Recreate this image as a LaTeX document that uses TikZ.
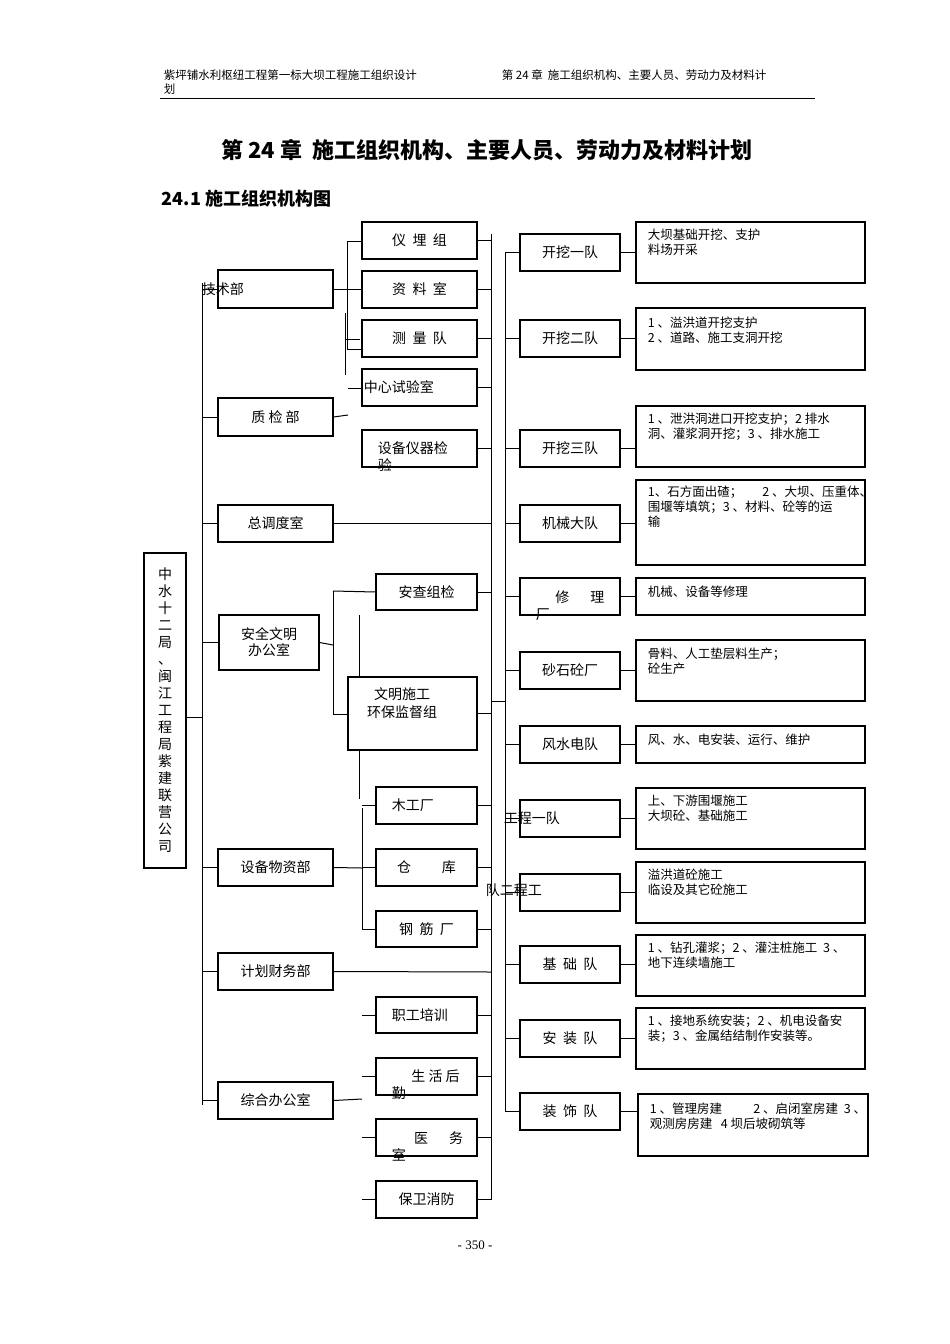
\documentclass[tikz,border=0pt]{standalone}
\usepackage{fontspec}
\setmainfont{Liberation Serif}
\newfontfamily\cjk{Noto Sans CJK SC}
\begin{document}
\begin{tikzpicture}[x=1pt,y=-1pt,line width=1pt,
  box/.style={draw,line width=1.1pt,inner sep=0pt,font=\cjk\fontsize{14}{16}\selectfont,align=center},
  note/.style={anchor=north west,inner sep=0pt,align=left,font=\cjk\fontsize{12.5}{15}\selectfont}]
\useasboundingbox (0,0) rectangle (950,1344);
\newcommand\bx[6]{\node[box,minimum width={(#4-#2)*1pt},minimum height={(#5-#3)*1pt}] (#1) at ({(#2+#4)/2},{(#3+#5)/2}) {#6};}
% header
\node[anchor=west,font=\cjk\fontsize{11.5}{13}\selectfont] at (160,75) {紫坪铺水利枢纽工程第一标大坝工程施工组织设计};
\node[anchor=west,font=\cjk\fontsize{11.5}{13}\selectfont] at (160,89) {划};
\node[anchor=west,font=\cjk\fontsize{11.5}{13}\selectfont] at (498,75) {第 24 章\ \ 施工组织机构、主要人员、劳动力及材料计};
\draw[line width=1pt] (160,98) -- (815,98);
\node[font=\cjk\bfseries\fontsize{22}{26}\selectfont] at (487,150) {第 24 章\ \ 施工组织机构、主要人员、劳动力及材料计划};
\node[anchor=west,font=\cjk\bfseries\fontsize{18}{22}\selectfont] at (158,199) {24.1 施工组织机构图};
% main
\bx{main}{144}{553}{186}{868}{}
\node[font=\cjk\fontsize{14}{17}\selectfont,align=center] at (165,710) {中\\水\\十\\二\\局\\、\\闽\\江\\工\\程\\局\\紫\\建\\联\\营\\公\\司};
% column 2
\bx{js}{218}{270}{333}{308}{}
\node[anchor=west,font=\cjk\fontsize{14}{16}\selectfont] at (198,289) {技术部};
\bx{zj}{218}{398}{333}{436}{质\ 检\ 部}
\bx{dd}{218}{505}{333}{542}{总调度室}
\bx{aq}{219}{615}{319}{670}{安全文明\\办公室}
\bx{sb}{218}{849}{333}{886}{设备物资部}
\bx{cw}{218}{953}{333}{990}{计划财务部}
\bx{zh}{218}{1082}{333}{1119}{综合办公室}
% column 3
\bx{ym}{362}{222}{477}{259}{仪\ \ 埋\ \ 组}
\bx{zl}{362}{271}{477}{308}{资\ \ 料\ \ 室}
\bx{cl}{362}{320}{477}{357}{测\ \ 量\ \ 队}
\bx{sy}{362}{369}{477}{406}{}
\node[anchor=west,font=\cjk\fontsize{14}{16}\selectfont] at (360,387) {中心试验室};
\bx{yq}{362}{430}{477}{467}{}
\node[anchor=north west,align=left,font=\cjk\fontsize{14}{17}\selectfont] at (374,438) {设备仪器检\\验};
\bx{aj}{376}{574}{477}{610}{安查组检}
\bx{wm}{348}{677}{477}{750}{}
\node[font=\cjk\fontsize{14}{18}\selectfont,align=center] at (402,703) {文明施工\\环保监督组};
\bx{mg}{376}{787}{477}{824}{}
\node[anchor=west,font=\cjk\fontsize{14}{16}\selectfont] at (388,805) {木工厂};
\bx{ck}{376}{849}{477}{886}{仓\hspace{2.2em}库}
\bx{gj}{376}{911}{477}{947}{钢\ \ 筋\ \ 厂}
\bx{px}{376}{997}{477}{1033}{}
\node[anchor=west,font=\cjk\fontsize{14}{16}\selectfont] at (388,1015) {职工培训};
\bx{hq}{376}{1058}{477}{1095}{}
\node[anchor=north west,align=left,font=\cjk\fontsize{14}{17}\selectfont] at (388,1066) {\hspace{1.4em}生\ 活\ 后\\勤};
\bx{yw}{376}{1119}{477}{1156}{}
\node[anchor=north west,align=left,font=\cjk\fontsize{14}{17}\selectfont] at (388,1128) {\hspace{1.6em}医\hspace{1.5em}务\\室};
\bx{bw}{376}{1181}{477}{1218}{保卫消防}
% column 4
\bx{k1}{520}{234}{620}{271}{开挖一队}
\bx{k2}{520}{320}{620}{357}{开挖二队}
\bx{k3}{520}{430}{620}{467}{开挖三队}
\bx{jx}{520}{505}{620}{542}{机械大队}
\bx{xl}{520}{578}{620}{615}{}
\node[anchor=north west,align=left,font=\cjk\fontsize{14}{17}\selectfont] at (532,587) {\hspace{1.4em}修\hspace{1.5em}理\\厂};
\bx{ss}{520}{652}{620}{689}{砂石砼厂}
\bx{fs}{520}{726}{620}{763}{风水电队}
\bx{g1}{520}{800}{620}{837}{}
\node[anchor=west,font=\cjk\fontsize{14}{16}\selectfont] at (500,818) {工程一队};
\bx{g2}{520}{874}{620}{911}{}
\node[anchor=west,font=\cjk\fontsize{14}{16}\selectfont] at (482,890) {队二程工};
\bx{jc}{520}{946}{620}{983}{基\ \ 础\ \ 队}
\bx{az}{520}{1020}{620}{1057}{安\ \ 装\ \ 队}
\bx{zs}{520}{1093}{620}{1130}{装\ \ 饰\ \ 队}
% column 5
\bx{n1}{636}{222}{865}{283}{}
\bx{n2}{636}{308}{865}{370}{}
\bx{n3}{636}{406}{865}{467}{}
\bx{n4}{636}{480}{865}{565}{}
\bx{n5}{636}{578}{865}{615}{}
\bx{n6}{636}{640}{865}{701}{}
\bx{n7}{636}{726}{865}{763}{}
\bx{n8}{636}{788}{865}{849}{}
\bx{n9}{636}{862}{865}{923}{}
\bx{n10}{636}{935}{865}{996}{}
\bx{n11}{636}{1008}{865}{1069}{}
\bx{n12}{638}{1094}{868}{1156}{}
\node[note] at (n1.north west) [xshift=12pt,yshift=-7pt] {大坝基础开挖、支护\\料场开采};
\node[note] at (n2.north west) [xshift=12pt,yshift=-9pt] {1\ 、溢洪道开挖支护\\2\ 、道路、施工支洞开挖};
\node[note] at (n3.north west) [xshift=12pt,yshift=-7pt] {1\ 、泄洪洞进口开挖支护；2 排水\\洞、灌浆洞开挖；3\ 、排水施工};
\node[note] at (n4.north west) [xshift=12pt,yshift=-6pt] {1、石方面出碴；\hspace{1.6em}2\ 、大坝、压重体、\\围堰等填筑；3\ 、材料、砼等的运\\输};
\node[note] at (n5.north west) [xshift=12pt,yshift=-8pt] {机械、设备等修理};
\node[note] at (n6.north west) [xshift=12pt,yshift=-8pt] {骨料、人工垫层料生产；\\砼生产};
\node[note] at (n7.north west) [xshift=12pt,yshift=-8pt] {风、水、电安装、运行、维护};
\node[note] at (n8.north west) [xshift=12pt,yshift=-7pt] {上、下游围堰施工\\大坝砼、基础施工};
\node[note] at (n9.north west) [xshift=12pt,yshift=-7pt] {溢洪道砼施工\\临设及其它砼施工};
\node[note] at (n10.north west) [xshift=12pt,yshift=-7pt] {1\ 、钻孔灌浆；2\ 、灌注桩施工\ \ 3\ 、\\地下连续墙施工};
\node[note] at (n11.north west) [xshift=12pt,yshift=-7pt] {1\ 、接地系统安装；2\ 、机电设备安\\装；3\ 、金属结结制作安装等。};
\node[note] at (n12.north west) [xshift=12pt,yshift=-9pt] {1\ 、管理房建\hspace{2.5em}2\ 、启闭室房建\ \ 3\ 、\\观测房房建\ \ \ 4 坝后坡砌筑等};
% left bus
\draw (202,283) -- (202,1105);
\draw (main.east |- 0,717) -- (202,717);
\foreach \n in {js,zj,dd,sb,cw,zh} \draw (202,0 |- \n.west) -- (\n.west);
\draw (202,0 |- aq.west) -- (aq.west);
% tech
\draw (js.east) -- (347,289);
\draw (347,241) -- (347,349) -- (362,349);
\draw (347,241) -- (ym.west |- 0,241);
\draw (347,289) -- (362,289);
\draw (345,313) -- (345,375);
\draw (345,339) -- (360,339);
\draw (348,388) -- (362,388);
\draw (zj.east) -- (348,415);
% col3 right bus
\draw (491,234) -- (491,1200);
\foreach \n in {ym,zl,cl,sy,yq,aj,wm,mg,ck,gj,px,hq,yw,bw} \draw (\n.east) -- (491,0 |- \n.east);
\draw (dd.east) -- (491,0 |- dd.east);
\draw (cw.east) -- (491,972);
% safety
\draw (aq.east) -- (333,645);
\draw (333,591) -- (333,714);
\draw (333,591) -- (aj.west);
\draw (333,714) -- (348,714);
\draw (359,615) -- (359,677);
\draw (359,750) -- (359,799);
% equipment
\draw (sb.east) -- (362,868);
\draw (362,808) -- (362,929);
\foreach \n in {mg,ck,gj} \draw (362,0 |- \n.west) -- (\n.west);
% general office
\draw (zh.east) -- (362,1099);
\foreach \n in {px,hq,yw,bw} \draw (362,0 |- \n.west) -- (\n.west);
% col4 bus
\draw (505,252) -- (505,1112);
\draw (491,701) -- (505,701);
\foreach \n/\m in {k1/n1,k2/n2,k3/n3,jx/n4,xl/n5,ss/n6,fs/n7,g1/n8,g2/n9,jc/n10,az/n11,zs/n12} {
  \draw (505,0 |- \n.west) -- (\n.west);
  \draw (\n.east) -- (\m.west |- \n.east);
}
\node[font=\fontsize{13}{15}\selectfont] at (475,1245) {- 350 -};
\end{tikzpicture}
\end{document}
